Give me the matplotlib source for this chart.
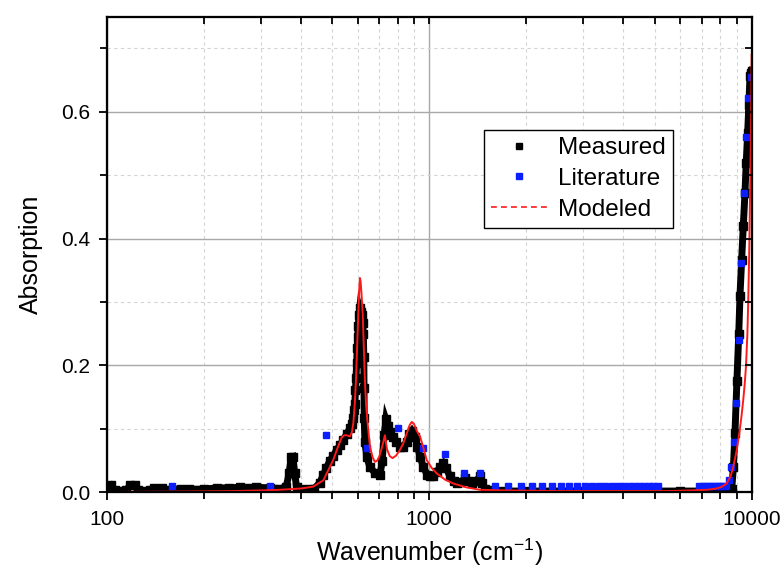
import matplotlib
matplotlib.use("Agg")
import matplotlib.pyplot as plt
from matplotlib.lines import Line2D
from matplotlib.ticker import FixedLocator, NullFormatter, FixedFormatter

plt.rcParams['font.family'] = ['Liberation Sans', 'DejaVu Sans']
plt.rcParams['mathtext.fontset'] = 'custom'
plt.rcParams['mathtext.rm'] = 'Liberation Sans'
plt.rcParams['mathtext.it'] = 'Liberation Sans:italic'

# Measured spectrum (wavenumber cm^-1, absorption)
meas_w = [100, 103, 106, 110, 115, 118, 122, 125, 130, 136, 140, 148, 152, 160, 170,
          180, 200, 220, 240, 260, 290, 320, 345, 360, 368, 373, 378, 383, 388, 400,
          425, 440, 458, 470, 480, 492, 505, 517, 530, 542, 555, 568, 576, 582, 586,
          588, 591, 593, 596, 598, 600, 603, 606, 609, 613, 618, 622, 625, 627, 628,
          629, 632, 640, 655, 680, 704, 715, 725, 734, 745, 758, 772, 790, 812, 830,
          852, 868, 883, 903, 920, 937, 960, 985, 1006, 1030, 1055, 1080, 1106, 1130,
          1160, 1190, 1217, 1250, 1291, 1320, 1355, 1400, 1437, 1460, 1489, 1550, 1700,
          2000, 3000, 4000, 5000, 6000, 7000, 8000, 8500, 8670, 8780, 8877, 9000, 9120,
          9200, 9311, 9420, 9534, 9620, 9719, 9800, 9881, 9950, 10000]
meas_a = [0.010, 0.012, 0.004, 0.002, 0.003, 0.011, 0.011, 0.003, 0.002, 0.003, 0.007,
          0.007, 0.003, 0.004, 0.006, 0.005, 0.005, 0.007, 0.007, 0.008, 0.008, 0.007,
          0.006, 0.008, 0.030, 0.055, 0.056, 0.030, 0.008, 0.005, 0.005, 0.006, 0.015,
          0.028, 0.038, 0.050, 0.058, 0.067, 0.075, 0.083, 0.092, 0.101, 0.108, 0.117,
          0.130, 0.140, 0.161, 0.180, 0.204, 0.227, 0.245, 0.262, 0.280, 0.290, 0.285,
          0.280, 0.267, 0.250, 0.214, 0.164, 0.117, 0.080, 0.056, 0.040, 0.030, 0.027,
          0.050, 0.090, 0.115, 0.105, 0.095, 0.088, 0.080, 0.072, 0.072, 0.080, 0.092,
          0.097, 0.088, 0.072, 0.056, 0.040, 0.028, 0.025, 0.026, 0.032, 0.040, 0.046,
          0.038, 0.025, 0.018, 0.014, 0.016, 0.022, 0.018, 0.014, 0.018, 0.025, 0.015,
          0.005, 0.003, 0.002, 0.002, 0.002, 0.002, 0.002, 0.002, 0.002, 0.002, 0.003,
          0.005, 0.040, 0.094, 0.175, 0.250, 0.310, 0.367, 0.420, 0.472, 0.520, 0.567,
          0.610, 0.656, 0.662, 0.665]

# Literature values
lit_w = [160, 320, 480, 640, 800, 960, 1120, 1280, 1440, 1600, 1760, 1920, 2080, 2240,
         2400, 2560, 2720, 2880, 3040, 3200, 3360, 3520, 3680, 3840, 4000, 4160, 4320,
         4480, 4640, 4800, 4960, 5120, 6880, 7040, 7200, 7360, 7520, 7680, 7840, 8000,
         8160, 8320, 8480, 8640, 8800, 8960, 9120, 9280, 9440, 9600, 9760, 9920]
lit_a = [0.010, 0.010, 0.090, 0.070, 0.101, 0.070, 0.060, 0.030, 0.030, 0.010, 0.010,
         0.010, 0.010, 0.010, 0.010, 0.010, 0.010, 0.010, 0.010, 0.010, 0.010, 0.010,
         0.010, 0.010, 0.010, 0.010, 0.010, 0.010, 0.010, 0.010, 0.010, 0.010, 0.010,
         0.010, 0.010, 0.010, 0.010, 0.010, 0.010, 0.010, 0.010, 0.010, 0.019, 0.040,
         0.080, 0.141, 0.240, 0.362, 0.472, 0.561, 0.622, 0.655]

# Modeled spectrum
mod_w = [100, 150, 200, 250, 300, 345, 400, 437, 470, 504, 520, 535, 545, 555, 568,
         576, 582, 588, 593, 598, 603, 607, 610, 613, 617, 622, 627, 632, 637, 643,
         655, 668, 679, 690, 700, 715, 729, 740, 755, 770, 790, 810, 831, 855, 870,
         883, 897, 915, 937, 960, 982, 1020, 1055, 1120, 1188, 1300, 1437, 1700, 2500,
         4000, 5500, 6500, 7300, 7788, 8100, 8366, 8600, 8770, 9000, 9154, 9300, 9419,
         9520, 9601, 9700, 9761, 9830, 9879, 9920, 9951, 9980, 10000]
mod_a = [0.0005, 0.001, 0.0015, 0.002, 0.003, 0.004, 0.006, 0.009, 0.019, 0.051, 0.070,
         0.086, 0.090, 0.090, 0.088, 0.095, 0.109, 0.140, 0.177, 0.230, 0.283, 0.320,
         0.338, 0.332, 0.312, 0.283, 0.230, 0.177, 0.140, 0.114, 0.072, 0.055, 0.048,
         0.050, 0.056, 0.072, 0.090, 0.068, 0.057, 0.054, 0.058, 0.066, 0.077, 0.095,
         0.106, 0.111, 0.108, 0.097, 0.088, 0.070, 0.051, 0.038, 0.030, 0.020, 0.014,
         0.008, 0.004, 0.003, 0.002, 0.002, 0.002, 0.003, 0.004, 0.006, 0.009, 0.014,
         0.025, 0.040, 0.068, 0.093, 0.120, 0.146, 0.172, 0.198, 0.250, 0.304, 0.380,
         0.462, 0.520, 0.567, 0.630, 0.690]

x_major = [100, 1000, 10000]
x_major_labels = ["100", "1000", "10000"]
y_major = [0.0, 0.2, 0.4, 0.6]
y_major_labels = ["0.0", "0.2", "0.4", "0.6"]
y_minor = [0.1, 0.3, 0.5, 0.7]

fig = plt.figure(figsize=(7.82, 5.72), dpi=100)
ax = fig.add_axes([0.1364, 0.1393, 0.8248, 0.8315])

ax.set_xscale('log')
ax.set_xlim(100, 10000)
ax.set_ylim(0, 0.75)

ax.plot(meas_w, meas_a, color='black', lw=5.0, marker='s', ms=5.5, mec='black',
        mfc='black', solid_joinstyle='miter', zorder=3)
ax.plot(lit_w, lit_a, ls='none', marker='s', ms=4.5, color='#0a1eff', mec='#0a1eff',
        zorder=4)
ax.plot(mod_w, mod_a, color='#ff1a1a', lw=1.4, zorder=5)

# ticks
ax.xaxis.set_major_locator(FixedLocator(x_major))
ax.xaxis.set_major_formatter(FixedFormatter(x_major_labels))
minors = [m * d for d in (100, 1000) for m in range(2, 10)]
ax.xaxis.set_minor_locator(FixedLocator(minors))
ax.xaxis.set_minor_formatter(NullFormatter())
ax.yaxis.set_major_locator(FixedLocator(y_major))
ax.yaxis.set_major_formatter(FixedFormatter(y_major_labels))
ax.yaxis.set_minor_locator(FixedLocator(y_minor))

ax.tick_params(which='both', direction='out', top=False, right=False,
               labelsize=15, width=1.3)
ax.tick_params(which='major', length=6)
ax.tick_params(which='minor', length=5)
ax.tick_params(axis='x', pad=7)
ax.tick_params(axis='y', pad=6)

# grid
ax.grid(which='major', color='#a8a8a8', lw=1.0, ls='-')
ax.grid(which='minor', color='#d4d4d4', lw=0.8, ls=(0, (3, 3)))
ax.set_axisbelow(True)

for s in ax.spines.values():
    s.set_linewidth(1.5)

# top/right inward ticks
axt = ax.twiny()
axt.set_xscale('log')
axt.set_xlim(ax.get_xlim())
axt.xaxis.set_major_locator(FixedLocator(x_major))
axt.xaxis.set_minor_locator(FixedLocator(minors))
axt.xaxis.set_major_formatter(NullFormatter())
axt.xaxis.set_minor_formatter(NullFormatter())
axt.tick_params(which='both', direction='in', length=5, width=1.3)
axr = ax.twinx()
axr.set_ylim(ax.get_ylim())
axr.yaxis.set_major_locator(FixedLocator(y_major))
axr.yaxis.set_minor_locator(FixedLocator(y_minor))
axr.yaxis.set_major_formatter(NullFormatter())
axr.tick_params(which='both', direction='in', length=5, width=1.3)
for a in (axt, axr):
    for s in a.spines.values():
        s.set_linewidth(1.5)

ax.set_xlabel("Wavenumber (cm$^{-1}$)", fontsize=18, labelpad=5)
ax.set_ylabel("Absorption", fontsize=18, labelpad=13)

handles = [
    Line2D([], [], ls='none', marker='s', ms=4.5, color='black'),
    Line2D([], [], ls='none', marker='s', ms=4.5, color='#0a1eff'),
    Line2D([], [], ls=(0, (3.5, 2.5)), lw=1.2, color='#ff1a1a'),
]
leg = axr.legend(handles, ["Measured", "Literature", "Modeled"], loc='upper left',
                 bbox_to_anchor=(0.585, 0.762), fontsize=17.5, frameon=True,
                 fancybox=False, edgecolor='black', framealpha=1,
                 handlelength=2.3, handletextpad=0.45, borderpad=0.3,
                 labelspacing=0.36, borderaxespad=0)
leg.get_frame().set_linewidth(1.0)

fig.savefig("out.png", dpi=100)
